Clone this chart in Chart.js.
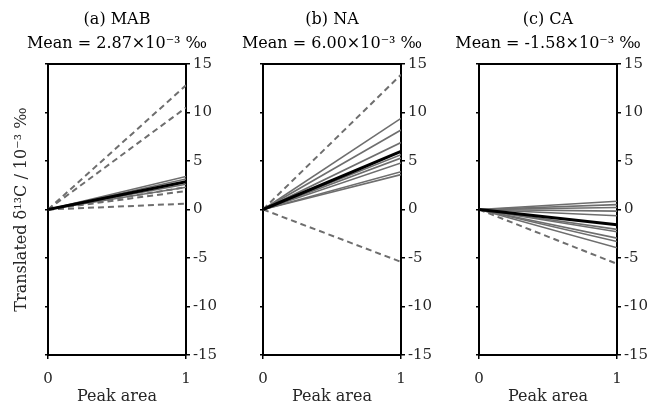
<!DOCTYPE html>
<html>
<head>
<meta charset="utf-8">
<script src="https://cdn.jsdelivr.net/npm/chart.js@4"></script>
<style>
  body { margin: 0; background: #fff; overflow: hidden; }
  .panel { position: absolute; top: 0; width: 234px; height: 406px; }
</style>
</head>
<body>
<div class="panel" style="left:0"><canvas id="chartMAB"></canvas></div>
<div class="panel" style="left:215px"><canvas id="chartNA"></canvas></div>
<div class="panel" style="left:431px"><canvas id="chartCA"></canvas></div>
<script>
// ==================== DATA ====================
const peakArea = [0, 1];
const startValue = 0;
const yTicks = [-15, -10, -5, 0, 5, 10, 15];

// end values (translated d13C at peak area 1), 10^-3 permil
const mabSolid = [3.4, 3.15, 2.6, 2.3];
const mabDashed = [12.8, 10.5, 2.3, 1.9, 0.6];
const mabMean = 2.87;

const naSolid = [9.4, 8.2, 6.9, 5.65, 5.3, 4.8, 3.9, 3.6];
const naDashed = [13.9, -5.4];
const naMean = 6.00;

const caSolid = [0.85, 0.5, 0.2, -0.17, -0.65, -2.05, -2.3, -2.95, -3.3, -3.95];
const caDashed = [-5.6];
const caMean = -1.58;

const FONT = 'DejaVu Serif';
const GRAY = '#6e6e6e';
const TEXT = '#262626';

// top border of the plot box
const frameTop = {
    id: 'frameTop',
    afterDraw(chart) {
        const { ctx, chartArea } = chart;
        ctx.save();
        ctx.strokeStyle = '#000';
        ctx.lineWidth = 2;
        ctx.beginPath();
        ctx.moveTo(chartArea.left, chartArea.top);
        ctx.lineTo(chartArea.right, chartArea.top);
        ctx.stroke();
        ctx.restore();
    }
};

function line(endValue, style) {
    const ys = [startValue, endValue];
    return Object.assign({
        data: peakArea.map((x, i) => ({ x: x, y: ys[i] })),
        pointRadius: 0,
        fill: false
    }, style);
}

function makePanel(id, letter, solid, dashed, mean, showYTitle) {
    const datasets = [line(mean, { borderColor: '#000', borderWidth: 3 })];
    solid.forEach(v => datasets.push(line(v, { borderColor: GRAY, borderWidth: 1.6 })));
    dashed.forEach(v => datasets.push(line(v, { borderColor: GRAY, borderWidth: 2, borderDash: [6, 4] })));

    const sign = mean < 0 ? '-' : '';
    const meanText = 'Mean = ' + sign + Math.abs(mean).toFixed(2) + '×10⁻³ ‰';

    new Chart(document.getElementById(id), {
        type: 'line',
        data: { datasets: datasets },
        options: {
            responsive: true,
            maintainAspectRatio: false,
            animation: false,
            layout: { padding: 0 },
            plugins: {
                legend: { display: false },
                tooltip: { enabled: false },
                title: {
                    display: true,
                    text: [letter, meanText],
                    color: '#000',
                    font: { family: FONT, size: 16, weight: 'normal', lineHeight: 1.55 },
                    padding: { top: 7, bottom: 7.4 }
                }
            },
            scales: {
                x: {
                    type: 'linear',
                    min: 0,
                    max: 1,
                    afterBuildTicks: axis => { axis.ticks = peakArea.map(v => ({ value: v })); },
                    afterFit: axis => { axis.height = 51; },
                    grid: { display: true, drawOnChartArea: false, drawTicks: true, tickLength: 4, color: '#000', lineWidth: 1.5 },
                    border: { display: true, color: '#000', width: 2 },
                    ticks: { color: TEXT, padding: 11, maxRotation: 0, font: { family: FONT, size: 15 } },
                    title: { display: true, text: 'Peak area', color: TEXT, padding: 0, font: { family: FONT, size: 16, lineHeight: 1.2 } }
                },
                yLeft: {
                    type: 'linear',
                    position: 'left',
                    min: -15,
                    max: 15,
                    afterBuildTicks: axis => { axis.ticks = yTicks.map(v => ({ value: v })); },
                    afterFit: axis => { axis.width = 48; },
                    grid: { display: true, drawOnChartArea: false, drawTicks: true, tickLength: 3, color: '#000', lineWidth: 1.5 },
                    border: { display: true, color: '#000', width: 2 },
                    ticks: { display: false },
                    title: {
                        display: showYTitle,
                        text: 'Translated δ¹³C / 10⁻³ ‰',
                        color: TEXT,
                        padding: { top: 12, bottom: 0 },
                        font: { family: FONT, size: 16, lineHeight: 1.2 }
                    }
                },
                y: {
                    type: 'linear',
                    position: 'right',
                    min: -15,
                    max: 15,
                    afterBuildTicks: axis => { axis.ticks = yTicks.map(v => ({ value: v })); },
                    afterFit: axis => { axis.width = 48; },
                    grid: { display: true, drawOnChartArea: false, drawTicks: true, tickLength: 4, color: '#000', lineWidth: 1.5 },
                    border: { display: true, color: '#000', width: 2 },
                    ticks: { color: TEXT, padding: 3, font: { family: FONT, size: 15 } }
                }
            }
        },
        plugins: [frameTop]
    });
}

makePanel('chartMAB', '(a) MAB', mabSolid, mabDashed, mabMean, true);
makePanel('chartNA', '(b) NA', naSolid, naDashed, naMean, false);
makePanel('chartCA', '(c) CA', caSolid, caDashed, caMean, false);
</script>
</body>
</html>
